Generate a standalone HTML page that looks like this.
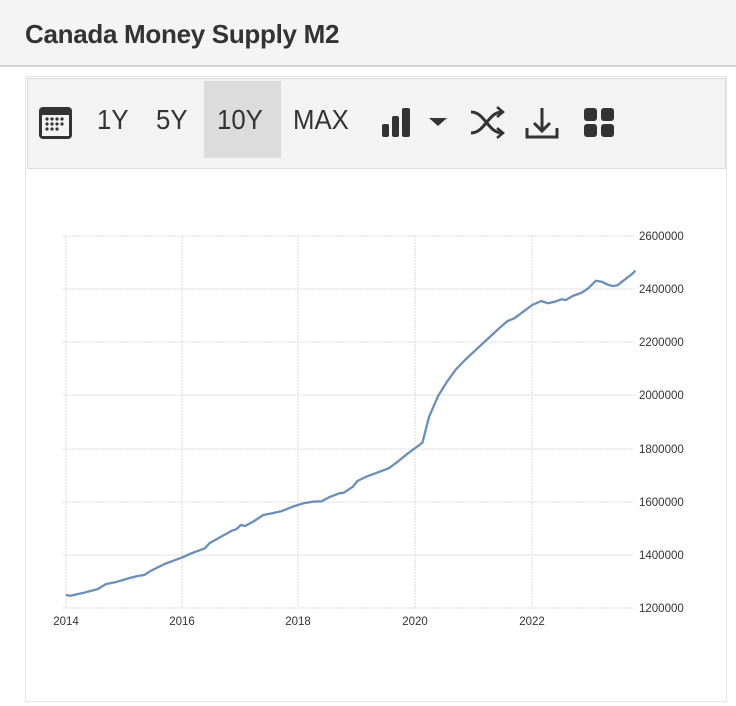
<!DOCTYPE html>
<html><head><style>
body{margin:0;width:736px;height:706px;background:#fff;font-family:"Liberation Sans",sans-serif;position:relative;overflow:hidden}
.hdr{position:absolute;left:0;top:0;width:736px;height:65px;background:#f4f4f4;border-bottom:2px solid #d4d4d4}
.hdr h1{position:absolute;left:25px;top:19px;margin:0;font-size:26px;font-weight:bold;color:#333;letter-spacing:-0.3px}
.box{position:absolute;left:25px;top:76px;width:700px;height:624px;border:1px solid #e6e6e6}
.tb{position:absolute;left:27px;top:78px;width:697px;height:89px;background:#f3f3f3;border:1px solid #ddd}
.sel{position:absolute;left:204px;top:81px;width:77px;height:77px;background:#dcdcdc}
.t{position:absolute;top:104px;font-size:28px;color:#333;transform:scaleX(0.92);transform-origin:left}
</style></head><body>
<div class="hdr"><h1>Canada Money Supply M2</h1></div>
<div class="box"></div>
<div class="tb"></div>
<div class="sel"></div>
<div class="t" style="left:97px">1Y</div>
<div class="t" style="left:156px">5Y</div>
<div class="t" style="left:217px">10Y</div>
<div class="t" style="left:293px">MAX</div>
<svg width="736" height="706" style="position:absolute;left:0;top:0">
<g fill="#333">
<rect x="39" y="107" width="33" height="32" rx="4"/>
<rect x="42" y="115" width="27" height="21" fill="#f3f3f3"/>
<g fill="#333"><circle cx="47" cy="119" r="1.6"/><circle cx="52" cy="119" r="1.6"/><circle cx="57" cy="119" r="1.6"/><circle cx="62" cy="119" r="1.6"/><circle cx="47" cy="124" r="1.6"/><circle cx="52" cy="124" r="1.6"/><circle cx="57" cy="124" r="1.6"/><circle cx="62" cy="124" r="1.6"/><circle cx="47" cy="129" r="1.6"/><circle cx="52" cy="129" r="1.6"/><circle cx="57" cy="129" r="1.6"/></g>
<rect x="382" y="124" width="7" height="13" rx="2"/><rect x="392" y="116" width="7" height="21" rx="2"/><rect x="402" y="108" width="8" height="29" rx="2"/>
<polygon points="429,118 447,118 438,126"/>
<rect x="584" y="108" width="13" height="13" rx="3"/><rect x="601" y="108" width="13" height="13" rx="3"/><rect x="584" y="124" width="13" height="13" rx="3"/><rect x="601" y="124" width="13" height="13" rx="3"/>
</g>
<g fill="none" stroke="#333" stroke-width="3">
<path d="M471 112 C485 112 488 133 502 133 M471 133 C485 133 488 112 502 112"/>
<path d="M497 107 L503 112 L497 117 M497 128 L503 133 L497 138" stroke-width="2.5"/>
<path d="M527 128 V137 H557 V128 M542 108 V131 M534 123 L542 131 L550 123"/>
</g>
<g stroke="#d8d8d8" stroke-width="1" stroke-dasharray="2,1">
<line x1="63" y1="236" x2="634" y2="236"/><line x1="63" y1="289" x2="634" y2="289"/><line x1="63" y1="342" x2="634" y2="342"/><line x1="63" y1="395" x2="634" y2="395"/><line x1="63" y1="449" x2="634" y2="449"/><line x1="63" y1="502" x2="634" y2="502"/><line x1="63" y1="555" x2="634" y2="555"/><line x1="63" y1="608" x2="634" y2="608"/>
<line x1="66" y1="236" x2="66" y2="608"/><line x1="182" y1="236" x2="182" y2="608"/><line x1="298" y1="236" x2="298" y2="608"/><line x1="415" y1="236" x2="415" y2="608"/><line x1="532" y1="236" x2="532" y2="608"/>
</g>
<polyline fill="none" stroke="#6a8fba" stroke-width="2.3" stroke-linejoin="round" points="65.9,595 70.4,595.7 83.8,592.7 97.3,589.3 106.2,584 115.2,582.3 128.7,578.3 137.6,576 144.3,575 151.1,570.7 164.5,564 173.5,560.7 182.5,557.3 191.4,553.3 204.9,548.3 209.4,543.3 218.3,538.3 231.8,530.7 236.3,529.3 240.8,525 245.2,526 254.2,521 263.2,515 272.2,513.3 281.1,511.3 294.6,506 303.5,503.3 312.5,501.7 321.5,501.3 330.4,496.7 339.4,493.3 343.9,492.7 352.9,486.7 357.4,481 366.3,476.7 375.3,473.3 388.7,468.3 397.7,461.7 406.7,454.3 415.7,447.7 422.4,442.7 429.1,416.7 438.1,396 447,381.7 456,369.3 465,360 473.9,351.7 482.9,343.3 491.9,335 500.9,326.7 507.6,321 514.3,318.3 523.3,311.7 532.2,305 541.2,301 547.9,303.3 554.7,301.7 561.4,299.3 565.9,300 572.6,296 581.6,292.7 588.3,288.3 595.9,280.7 601.7,281.7 608.5,285 613,286 617.4,285.3 626.4,278.3 630.9,275 635.4,270.7"/>
<g font-family="Liberation Sans,sans-serif" font-size="11.5" fill="#333">
<text x="639" y="240">2600000</text><text x="639" y="293">2400000</text><text x="639" y="346">2200000</text><text x="639" y="399">2000000</text><text x="639" y="453">1800000</text><text x="639" y="506">1600000</text><text x="639" y="559">1400000</text><text x="639" y="612">1200000</text>
<g text-anchor="middle"><text x="66" y="625">2014</text><text x="182" y="625">2016</text><text x="298" y="625">2018</text><text x="415" y="625">2020</text><text x="532" y="625">2022</text></g>
</g>
</svg>
</body></html>
